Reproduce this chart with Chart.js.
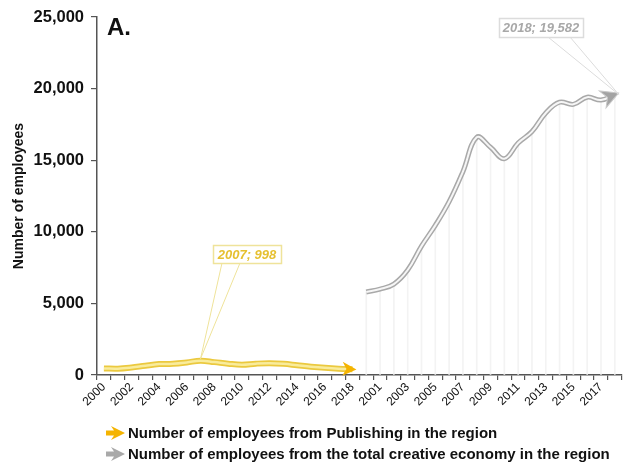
<!DOCTYPE html>
<html lang="en">
<head>
  <meta charset="UTF-8">
  <title>Employees - Publishing vs creative economy</title>
  <script src="https://cdn.jsdelivr.net/npm/chart.js"></script>
  <style>
    html, body { margin: 0; padding: 0; background: #fff; }
    #wrap { position: relative; width: 625px; height: 466px; font-family: "Liberation Sans", Arial, sans-serif; }
    #panel { position: absolute; left: 107px; top: 13px; font-weight: bold; font-size: 24px; color: #111; }
    #legend { position: absolute; left: 106px; top: 422px; font-weight: bold; font-size: 15px; color: #111; }
    .item { display: flex; align-items: center; height: 21px; }
    .item svg { margin-right: 2px; }
  </style>
</head>
<body>
  <div id="wrap">
    <canvas id="chart" width="625" height="466"></canvas>
    <div id="panel">A.</div>
    <div id="legend">
      <div class="item">
        <svg width="20" height="14"><polygon points="0,4.5 8,4.5 5,0 19,7 5,14 8,9.5 0,9.5" fill="#f5b400"/></svg>
        Number of employees from Publishing in the region
      </div>
      <div class="item">
        <svg width="20" height="14"><polygon points="0,4.5 8,4.5 5,0 19,7 5,14 8,9.5 0,9.5" fill="#a9a9a9"/></svg>
        Number of employees from the total creative economy in the region
      </div>
    </div>
  </div>

  <script>
    const years = ['2000', '2001', '2002', '2003', '2004', '2005', '2006', '2007', '2008', '2009',
                   '2010', '2011', '2012', '2013', '2014', '2015', '2016', '2017', '2018'];
    const publishing = [460, 440, 520, 650, 760, 790, 880, 998, 900, 790,
                        720, 790, 820, 780, 680, 580, 500, 440, 400];
    const creative = [5800, 6000, 6350, 7330, 9000, 10450, 12100, 14200, 16600, 15900,
                      15100, 16200, 17000, 18300, 19050, 18900, 19400, 19200, 19582];
    const yTicks = [0, 5000, 10000, 15000, 20000, 25000];

    // two blocks of years side by side on one category axis
    const labels = years.concat(years);
    const gap = years.map(() => null);
    const pubData = publishing.concat(gap);
    const creData = gap.concat(creative);

    const callouts = {
      id: 'callouts',
      afterDatasetsDraw(chart) {
        const ctx = chart.ctx;
        const pubPts = chart.getDatasetMeta(3).data;
        const crePts = chart.getDatasetMeta(1).data;

        function arrow(p, prev, fill, stroke, size) {
          const a = Math.atan2(p.y - prev.y, p.x - prev.x);
          ctx.save();
          ctx.translate(p.x, p.y);
          ctx.rotate(a);
          ctx.beginPath();
          ctx.moveTo(4, 0);
          ctx.lineTo(-size, -size * 0.7);
          ctx.lineTo(-size * 0.6, 0);
          ctx.lineTo(-size, size * 0.7);
          ctx.closePath();
          ctx.fillStyle = fill;
          ctx.fill();
          if (stroke) { ctx.strokeStyle = stroke; ctx.lineWidth = 1; ctx.stroke(); }
          ctx.restore();
        }

        function box(x, y, w, h, text, border, color, px, py, x1, x2) {
          ctx.save();
          ctx.strokeStyle = border;
          ctx.lineWidth = 1;
          ctx.beginPath();
          ctx.moveTo(x1, y + h); ctx.lineTo(px, py);
          ctx.moveTo(x2, y + h); ctx.lineTo(px, py);
          ctx.stroke();
          ctx.fillStyle = '#fff';
          ctx.fillRect(x, y, w, h);
          ctx.lineWidth = 1.5;
          ctx.strokeRect(x + 0.5, y + 0.5, w, h);
          ctx.fillStyle = color;
          ctx.font = 'italic bold 13px "Liberation Sans", Arial, sans-serif';
          ctx.textAlign = 'center';
          ctx.textBaseline = 'middle';
          ctx.fillText(text, x + w / 2, y + h / 2 + 1);
          ctx.restore();
        }

        const pn = publishing.length - 1;
        arrow(pubPts[pn], pubPts[pn - 1], '#f5b400', null, 10);
        const cn = labels.length - 1;
        arrow(crePts[cn], crePts[cn - 1], '#a3a3a3', '#c8c8c8', 13);

        const peak = pubPts[7];
        box(213, 245, 68, 18, years[7] + '; ' + publishing[7].toLocaleString('en-US'),
            '#efe39a', '#e6c030', peak.x, peak.y - 2, 222, 240);
        const last = crePts[cn];
        box(499, 18, 84, 19, years[18] + '; ' + creative[18].toLocaleString('en-US'),
            '#dcdcdc', '#a8a8a8', last.x + 4, last.y, 548, 570);
      }
    };

    new Chart(document.getElementById('chart'), {
      type: 'line',
      data: {
        labels: labels,
        datasets: [
          { type: 'bar', data: creData, backgroundColor: '#f3f3f3', barThickness: 1, order: 10 },
          { data: creData, borderColor: '#a9a9a9', borderWidth: 5, pointRadius: 0, tension: 0.4, order: 4 },
          { data: creData, borderColor: '#f6f6f6', borderWidth: 2, pointRadius: 0, tension: 0.4, order: 3 },
          { data: pubData, borderColor: '#ebc93f', borderWidth: 6, pointRadius: 0, tension: 0.4, order: 2 },
          { data: pubData, borderColor: '#f9ec9c', borderWidth: 2.5, pointRadius: 0, tension: 0.4, order: 1 }
        ]
      },
      options: {
        responsive: false,
        animation: false,
        layout: { padding: { top: 17, right: 1, bottom: 56, left: 0 } },
        plugins: {
          legend: { display: false },
          tooltip: { enabled: false }
        },
        scales: {
          x: {
            offset: true,
            afterFit: s => { s.height = 35; },
            grid: { offset: true, drawOnChartArea: false, drawTicks: true, tickLength: 5, color: '#555', lineWidth: 1.2 },
            border: { color: '#555', width: 1.5 },
            ticks: {
              autoSkip: false,
              minRotation: 45,
              maxRotation: 45,
              padding: 0,
              color: '#111',
              font: { family: '"Liberation Sans", Arial, sans-serif', size: 12 },
              callback: (v, i) => i % 2 === 0 ? labels[i] : ''
            }
          },
          y: {
            min: 0,
            max: 25000,
            afterFit: s => { s.width = 97; },
            afterBuildTicks: s => { s.ticks = yTicks.map(v => ({ value: v })); },
            grid: { drawOnChartArea: false, drawTicks: true, tickLength: 6, color: '#555', lineWidth: 1.2 },
            border: { color: '#555', width: 1.5 },
            title: {
              display: true,
              text: 'Number of employees',
              color: '#111',
              padding: { top: 11, bottom: 0 },
              font: { family: '"Liberation Sans", Arial, sans-serif', size: 14, weight: 'bold' }
            },
            ticks: {
              padding: 7,
              color: '#111',
              font: { family: '"Liberation Sans", Arial, sans-serif', size: 16.5, weight: 'bold' },
              callback: v => v.toLocaleString('en-US')
            }
          }
        }
      },
      plugins: [callouts]
    });
  </script>
</body>
</html>
